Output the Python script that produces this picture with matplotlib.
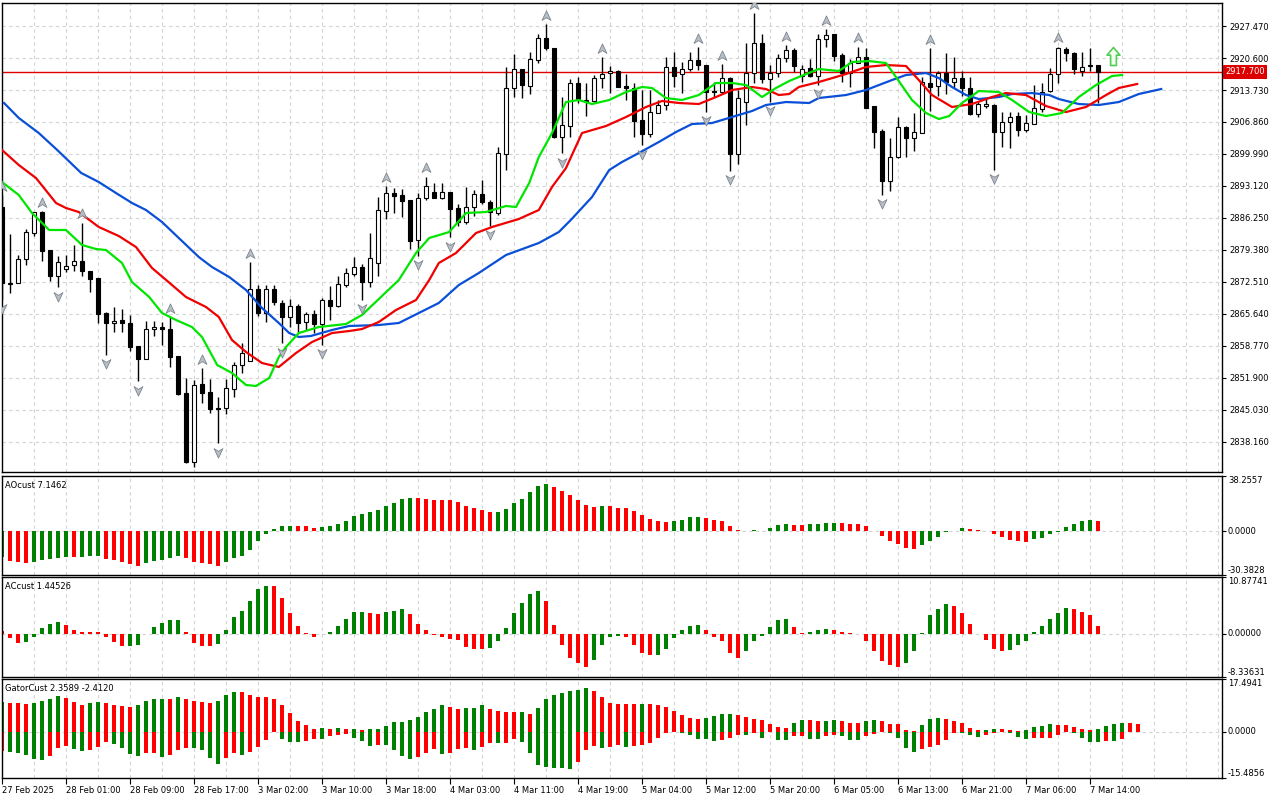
import numpy as np
import matplotlib
matplotlib.use("Agg")
import matplotlib.pyplot as plt
from matplotlib.path import Path
from matplotlib import transforms

plt.rcParams['font.family'] = ['DejaVu Sans']

# XAUUSD H1 candles, 27 Feb 2025 -> 7 Mar 2025
opens = [2888.61, 2872.01, 2872.35, 2877.51, 2883.09, 2887.47, 2879.37, 2873.86, 2875.23, 2876.09,
         2877.01, 2874.87, 2873.36, 2865.85, 2863.64, 2864.28, 2863.64, 2858.70, 2855.91, 2862.35,
         2862.78, 2862.35, 2856.55, 2848.61, 2833.86, 2850.54, 2848.82, 2845.45, 2845.39, 2849.47,
         2854.62, 2855.48, 2871.00, 2865.78, 2871.00, 2868.06, 2864.93, 2867.35, 2863.85, 2865.57,
         2863.42, 2868.64, 2867.42, 2871.86, 2874.22, 2875.79, 2872.57, 2876.65, 2887.81, 2891.55,
         2891.12, 2890.11, 2881.52, 2890.60, 2891.76, 2890.60, 2891.76, 2888.33, 2885.32, 2888.67,
         2891.33, 2889.62, 2887.38, 2899.99, 2914.22, 2918.17, 2914.65, 2920.17, 2924.83, 2922.68,
         2903.57, 2906.06, 2915.17, 2911.58, 2911.30, 2916.24, 2917.31, 2917.81, 2914.59, 2914.09,
         2907.29, 2904.28, 2908.85, 2910.44, 2918.60, 2917.10, 2918.17, 2920.10, 2919.09, 2913.58,
         2913.36, 2916.37, 2899.99, 2911.21, 2917.31, 2923.75, 2916.02, 2917.44, 2920.53, 2922.31,
         2916.73, 2918.39, 2916.73, 2924.61, 2925.75, 2921.24, 2917.44, 2919.59, 2920.75, 2910.29,
         2904.92, 2894.25, 2899.28, 2905.72, 2903.36, 2904.43, 2915.17, 2914.59, 2917.31, 2915.51,
         2916.24, 2914.09, 2908.57, 2910.29, 2910.51, 2904.65, 2906.92, 2908.14, 2905.14, 2906.43,
         2909.58, 2913.58, 2917.16, 2922.47, 2921.61, 2917.87, 2918.94, 2919.09]
highs = [2891.18, 2882.81, 2878.30, 2883.88, 2887.47, 2887.75, 2879.37, 2878.09, 2878.24, 2880.45,
         2885.24, 2874.87, 2873.36, 2866.00, 2867.14, 2866.71, 2865.36, 2858.70, 2864.20, 2864.13,
         2863.85, 2864.99, 2856.55, 2851.83, 2851.46, 2853.98, 2851.61, 2847.75, 2851.61, 2855.33,
         2859.34, 2876.73, 2871.92, 2871.92, 2871.92, 2868.64, 2868.85, 2867.72, 2866.13, 2866.49,
         2869.13, 2871.71, 2873.79, 2875.57, 2877.94, 2876.30, 2883.09, 2890.82, 2893.12, 2892.69,
         2892.41, 2890.11, 2891.55, 2895.11, 2893.82, 2893.82, 2891.89, 2889.25, 2892.84, 2892.26,
         2894.40, 2890.11, 2901.55, 2918.73, 2921.46, 2918.17, 2921.95, 2925.69, 2927.90, 2922.68,
         2912.16, 2916.02, 2916.45, 2915.17, 2916.95, 2920.75, 2918.88, 2918.02, 2917.16, 2915.17,
         2913.73, 2913.73, 2911.58, 2920.88, 2921.95, 2919.80, 2921.95, 2922.89, 2919.09, 2915.51,
         2919.31, 2916.58, 2913.73, 2923.88, 2930.19, 2925.75, 2919.09, 2921.46, 2923.39, 2922.68,
         2919.09, 2920.32, 2925.75, 2926.76, 2925.75, 2921.61, 2920.32, 2923.02, 2922.68, 2910.29,
         2905.29, 2903.36, 2907.87, 2906.00, 2908.72, 2916.45, 2922.68, 2917.81, 2921.61, 2920.75,
         2917.87, 2916.58, 2911.21, 2911.95, 2910.72, 2909.07, 2909.07, 2909.07, 2908.36, 2914.80,
         2915.17, 2918.39, 2923.02, 2922.89, 2921.95, 2921.95, 2922.68, 2919.09]
lows = [2868.64, 2870.21, 2872.29, 2876.15, 2882.38, 2877.08, 2872.78, 2871.37, 2874.65, 2874.93,
        2873.79, 2870.42, 2863.64, 2856.90, 2861.83, 2861.83, 2857.63, 2851.18, 2855.91, 2860.91,
        2859.04, 2854.32, 2848.24, 2833.58, 2832.72, 2846.46, 2844.44, 2837.87, 2844.10, 2847.75,
        2853.03, 2855.48, 2865.27, 2863.98, 2867.57, 2859.34, 2862.91, 2861.49, 2862.20, 2861.49,
        2858.98, 2864.35, 2867.20, 2871.37, 2873.79, 2868.64, 2871.37, 2873.79, 2886.10, 2887.38,
        2886.52, 2879.53, 2878.09, 2890.11, 2890.47, 2890.26, 2882.10, 2884.53, 2884.96, 2886.67,
        2889.25, 2884.53, 2886.89, 2896.55, 2912.29, 2912.07, 2912.80, 2919.46, 2922.31, 2903.36,
        2900.14, 2903.57, 2910.87, 2908.14, 2911.21, 2914.09, 2913.15, 2914.31, 2911.58, 2903.70,
        2901.85, 2903.57, 2908.72, 2909.43, 2914.44, 2913.15, 2917.87, 2918.02, 2909.07, 2912.16,
        2912.87, 2896.34, 2897.78, 2906.21, 2915.17, 2915.17, 2911.21, 2916.58, 2919.80, 2917.66,
        2915.51, 2916.45, 2914.80, 2923.02, 2920.02, 2915.51, 2914.44, 2919.52, 2909.80, 2901.21,
        2891.18, 2892.11, 2899.13, 2899.41, 2900.69, 2904.43, 2909.28, 2912.44, 2912.87, 2914.09,
        2912.44, 2908.36, 2907.99, 2909.80, 2896.55, 2901.55, 2901.21, 2903.85, 2904.77, 2906.43,
        2909.07, 2913.36, 2915.29, 2920.02, 2917.16, 2916.73, 2917.87, 2910.87]
closes = [2872.29, 2872.35, 2877.44, 2883.24, 2887.47, 2879.22, 2873.86, 2876.73, 2875.88, 2877.01,
          2874.93, 2873.21, 2865.70, 2863.64, 2864.07, 2863.64, 2858.61, 2856.04, 2862.35, 2862.78,
          2862.35, 2856.47, 2848.46, 2833.86, 2850.33, 2848.74, 2845.17, 2845.17, 2849.68, 2854.68,
          2857.26, 2870.94, 2865.78, 2871.00, 2868.21, 2864.93, 2867.35, 2863.77, 2865.57, 2863.42,
          2868.64, 2867.42, 2872.01, 2874.37, 2875.66, 2872.57, 2877.59, 2887.96, 2891.55, 2891.03,
          2889.96, 2881.37, 2890.47, 2893.12, 2890.60, 2891.76, 2888.18, 2885.45, 2888.67, 2891.33,
          2889.62, 2887.47, 2900.14, 2914.09, 2918.17, 2914.80, 2920.32, 2924.83, 2922.68, 2903.57,
          2906.21, 2915.17, 2911.79, 2911.30, 2916.24, 2917.16, 2917.81, 2914.44, 2914.09, 2907.14,
          2904.28, 2908.94, 2910.44, 2918.60, 2916.80, 2918.17, 2920.10, 2919.03, 2913.36, 2913.30,
          2916.24, 2899.92, 2911.95, 2917.31, 2923.75, 2916.02, 2917.44, 2920.53, 2922.31, 2918.88,
          2918.17, 2916.73, 2924.61, 2925.54, 2921.03, 2917.44, 2919.59, 2920.75, 2909.80, 2904.77,
          2894.25, 2899.41, 2905.72, 2903.36, 2904.65, 2915.51, 2914.44, 2917.31, 2915.51, 2916.24,
          2914.09, 2908.57, 2910.72, 2910.66, 2904.65, 2906.92, 2907.99, 2905.14, 2906.58, 2909.80,
          2913.36, 2917.16, 2922.68, 2921.61, 2918.17, 2918.73, 2919.09, 2917.70]

time_labels = ["27 Feb 2025", "28 Feb 01:00", "28 Feb 09:00", "28 Feb 17:00", "3 Mar 02:00",
               "3 Mar 10:00", "3 Mar 18:00", "4 Mar 03:00", "4 Mar 11:00", "4 Mar 19:00",
               "5 Mar 04:00", "5 Mar 12:00", "5 Mar 20:00", "6 Mar 05:00", "6 Mar 13:00",
               "6 Mar 21:00", "7 Mar 06:00", "7 Mar 14:00"]

# Alligator lines (already shifted forward: jaw 8, teeth 5, lips 3 bars)
jaw_x = [0.25, 2.1, 4.6, 6.9, 9.9, 12.1, 14.25, 16.25, 18, 20, 22.1, 24.6, 26.25, 28.4, 30.5,
         32.5, 34.6, 35.9, 37.1, 38.6, 41.25, 43.4, 47.1, 49.6, 52.1, 54.6, 57.1, 59.6, 63, 67.1,
         69.6, 71.1, 73.75, 75.9, 77.5, 79.6, 82.1, 84.25, 86.25, 88.75, 91.25, 93.75, 95.5, 98,
         100.9, 102.1, 105.5, 108, 111.25, 113, 115.5, 117.1, 118.75, 120.5, 122.1, 124.6, 126.25,
         128.75, 130.9, 132.1, 134.6, 137.1, 139.6, 142.1, 144.9]
jaw_y = [2910.94, 2907.72, 2904.49, 2900.85, 2895.91, 2893.97, 2891.61, 2889.47, 2887.96, 2885.39,
         2881.95, 2877.87, 2875.73, 2873.58, 2870.79, 2866.92, 2863.70, 2861.55, 2860.70, 2860.91,
         2862.20, 2863.06, 2863.27, 2863.70, 2865.85, 2868.00, 2871.86, 2874.44, 2878.30, 2880.88,
         2883.24, 2885.82, 2890.75, 2896.55, 2898.27, 2900.20, 2902.56, 2904.71, 2906.43, 2906.64,
         2907.93, 2909.22, 2910.51, 2911.15, 2910.94, 2912.01, 2912.65, 2913.73, 2915.87, 2916.95,
         2917.38, 2916.30, 2914.37, 2912.65, 2911.79, 2912.22, 2912.87, 2913.08, 2912.65, 2911.79,
         2910.72, 2910.51, 2911.15, 2912.87, 2913.94]
teeth_x = [0, 2.1, 4.25, 6.75, 8, 9.6, 12.1, 14.6, 16.75, 18.75, 21.25, 23, 25.5, 27.1, 28.75,
           30.5, 32.5, 34.6, 36.75, 38.75, 41.25, 43.4, 45, 47.1, 49.25, 51.75, 53.4, 54.6, 56.75,
           59.25, 61.25, 64.6, 67.1, 68.75, 70.5, 72.5, 75.5, 78, 80.5, 82.5, 84.6, 87.1, 89.25,
           91.25, 93.75, 95.5, 97.1, 98.4, 99.6, 102.1, 105.5, 108, 110.5, 113, 114.6, 116.25,
           118.75, 121.25, 123.75, 125.5, 128, 130.5, 133, 135.5, 138, 139.6, 141.9]
teeth_y = [2900.85, 2897.62, 2894.83, 2889.47, 2888.39, 2887.53, 2884.31, 2882.38, 2880.02, 2875.51,
           2871.86, 2869.28, 2867.14, 2864.99, 2860.05, 2857.48, 2855.11, 2854.26, 2857.26, 2859.62,
           2861.55, 2861.98, 2862.41, 2863.92, 2866.49, 2868.64, 2872.93, 2876.58, 2878.73, 2883.02,
           2884.31, 2886.03, 2887.96, 2892.90, 2896.98, 2904.49, 2906.00, 2907.93, 2910.08, 2911.37,
           2910.94, 2910.72, 2912.22, 2913.73, 2914.37, 2913.94, 2912.65, 2912.87, 2914.37, 2915.44,
           2917.16, 2918.67, 2919.09, 2918.88, 2915.87, 2912.65, 2910.08, 2910.72, 2912.22, 2913.08,
           2912.65, 2910.29, 2909.00, 2910.08, 2912.65, 2914.16, 2915.02]
lips_x = [0, 2.1, 3.75, 5.9, 8, 10, 11.75, 13, 15, 16.25, 18.4, 20, 21.75, 23.75, 25, 26.9, 28.75,
          30.5, 31.75, 33.4, 34.6, 35.5, 37.1, 39.6, 43, 45, 47.5, 49.6, 51.75, 53.4, 55.9, 58,
          60.5, 63, 64.25, 65.9, 67.1, 68.75, 70.5, 72.1, 73.75, 75.9, 78, 80, 81.25, 83, 85, 87.1,
          89.25, 91.25, 93, 95, 96.75, 98.4, 99.6, 102.1, 104.6, 106.25, 108.4, 110.5, 111.75,
          113.75, 115.5, 117.1, 118.4, 120, 122.1, 124.6, 126.25, 128.4, 130.5, 132.5, 134.6,
          136.75, 138.75, 140]
lips_y = [2893.97, 2891.18, 2887.32, 2883.67, 2883.67, 2880.45, 2879.59, 2879.37, 2876.58, 2872.50,
          2869.28, 2865.85, 2864.35, 2862.84, 2860.70, 2854.68, 2852.97, 2850.39, 2850.18, 2851.89,
          2856.40, 2858.55, 2861.55, 2862.84, 2863.49, 2865.42, 2869.50, 2872.93, 2878.73, 2881.95,
          2883.24, 2887.32, 2887.53, 2888.82, 2888.61, 2893.76, 2899.34, 2904.49, 2911.15, 2911.58,
          2910.72, 2911.58, 2913.30, 2914.37, 2914.16, 2912.01, 2911.58, 2912.65, 2915.23, 2915.23,
          2914.80, 2912.22, 2914.16, 2915.66, 2916.52, 2918.24, 2917.81, 2919.74, 2919.95, 2919.52,
          2916.52, 2911.58, 2908.79, 2907.50, 2908.14, 2910.94, 2913.51, 2913.30, 2911.58, 2909.00,
          2908.14, 2908.79, 2912.22, 2914.80, 2916.73, 2916.95]

# bars that carry a fractal
up_fractals = [0, 5, 10, 21, 25, 31, 48, 53, 68, 75, 87, 90, 94, 98, 103, 107, 116, 132]
down_fractals = [0, 7, 13, 17, 27, 35, 40, 45, 52, 56, 61, 70, 80, 88, 91, 96, 102, 110, 124]

ao = [-18.0, -20.8, -21.6, -21.9, -21.7, -20.3, -19.2, -18.5, -17.6, -18.2,
      -17.8, -17.5, -17.1, -19.2, -19.9, -21.7, -22.6, -23.8, -22.2, -21.0,
      -19.9, -18.5, -17.1, -18.5, -21.3, -21.9, -23.1, -23.8, -21.7, -18.9,
      -16.9, -12.9, -6.5, -2.1, 1.6, 3.7, 3.8, 3.6, 3.5, 2.3,
      3.2, 3.7, 5.1, 7.2, 10.2, 11.6, 13.4, 15.0, 17.6, 19.6,
      22.4, 23.1, 23.0, 22.4, 21.7, 21.6, 21.3, 20.3, 17.6, 16.4,
      15.0, 13.4, 13.5, 15.7, 19.6, 22.4, 27.5, 31.2, 32.8, 30.7,
      28.2, 25.4, 21.7, 18.2, 16.9, 17.6, 17.5, 16.2, 16.1, 14.1,
      11.3, 8.5, 7.2, 6.5, 7.2, 7.9, 9.5, 9.9, 9.2, 7.9,
      7.2, 3.7, 0.9, -0.2, 0.5, 0.4, 2.3, 4.4, 5.1, 4.4,
      4.3, 5.1, 5.15, 5.8, 5.85, 5.7, 5.1, 5.0, 3.7, -0.1,
      -3.2, -6.5, -9.2, -12.0, -12.1, -9.9, -6.5, -3.7, -0.9, 0.4,
      2.3, 1.6, 0.9, -0.1, -2.3, -4.2, -5.8, -6.5, -7.2, -5.1,
      -4.4, -2.3, -0.4, 3.0, 5.1, 6.8, 7.5, 7.1462]
ac = [0.5, -0.9, -1.8, -1.7, -0.6, 1.0, 1.9, 2.3, 1.7, 0.6,
      0.4, 0.38, 0.37, -0.6, -1.7, -2.4, -2.35, -2.2, -0.1, 1.3,
      2.1, 2.6, 2.7, 0.4, -1.8, -2.4, -2.45, -2.0, 0.6, 3.1,
      4.3, 6.3, 8.6, 9.2, 9.1, 6.9, 4.0, 1.5, 0.2, -0.6,
      -0.05, 0.4, 1.5, 2.9, 4.1, 4.2, 3.9, 3.7, 4.1, 4.3,
      4.8, 3.7, 1.9, 0.6, -0.3, -0.6, -1.0, -1.3, -2.6, -2.9,
      -3.0, -2.8, -1.5, 1.0, 4.0, 5.8, 7.7, 8.1, 6.3, 1.7,
      -2.1, -4.6, -5.7, -6.5, -5.1, -2.2, -0.6, -0.5, -0.65, -2.1,
      -3.7, -4.2, -4.15, -3.0, -0.9, 0.6, 1.5, 1.7, 0.6, -0.6,
      -1.5, -3.8, -4.6, -3.4, -1.4, -0.5, 1.3, 2.6, 2.8, 1.3,
      0.2, 0.4, 0.6, 0.8, 0.6, 0.4, 0.05, -0.05, -1.5, -3.4,
      -5.3, -6.1, -6.5, -5.7, -3.4, 0.1, 3.5, 4.8, 5.6, 5.3,
      4.0, 1.9, -0.05, -1.3, -3.0, -3.4, -3.2, -2.2, -1.4, 0.4,
      1.5, 2.9, 4.0, 5.0, 4.8, 4.2, 3.5, 1.44526]
gator_up = [9.9, 9.6, 9.35, 9.1, 9.35, 10.0, 10.7, 11.7, 11.3, 9.9,
            8.8, 9.35, 9.7, 9.6, 8.9, 8.5, 8.0, 8.7, 10.2, 10.9,
            10.95, 10.85, 11.55, 10.7, 10.0, 9.7, 9.6, 10.0, 12.0, 13.2,
            13.0, 12.0, 11.55, 11.5, 10.7, 8.7, 6.05, 3.6, 2.1, 1.0,
            1.05, 0.8, 1.1, 0.7, 1.0, 0.6, 0.8, 0.9, 2.0, 3.1,
            3.15, 3.7, 4.8, 6.4, 7.6, 8.7, 8.0, 7.4, 7.7, 7.75,
            8.7, 7.6, 6.9, 6.4, 6.35, 6.4, 5.8, 7.9, 10.9, 12.0,
            12.8, 13.5, 13.9, 14.5, 13.5, 11.55, 9.6, 9.25, 9.2, 9.15,
            9.2, 9.1, 8.9, 8.25, 6.9, 5.6, 4.6, 4.3, 4.6, 5.3,
            5.7, 5.9, 5.6, 5.0, 4.3, 3.95, 2.6, 1.65, 1.3, 3.0,
            3.95, 3.9, 3.6, 3.65, 4.0, 3.6, 3.0, 2.95, 3.5, 3.95,
            3.6, 2.6, 2.55, 0.35, 0.1, 2.3, 4.3, 4.6, 4.3, 3.6,
            3.0, 1.3, 0.35, 0.65, 1.0, 0.95, 0.35, 0.3, 0.65, 1.65,
            2.0, 2.6, 2.3, 2.25, 1.65, 1.0, 0.35, 1.0, 2.0, 2.6,
            2.95, 2.9, 2.3589]
gator_dn = [-6.6, -6.9, -7.15, -7.7, -9.0, -9.35, -8.0, -5.5, -4.7, -5.8,
            -6.4, -6.05, -5.2, -3.6, -4.1, -5.5, -7.5, -8.0, -7.15, -7.1,
            -8.5, -7.8, -6.05, -5.6, -5.65, -6.05, -8.8, -10.7, -8.75, -7.15,
            -7.8, -6.9, -5.2, -2.75, -0.3, -2.4, -3.4, -3.6, -3.1, -2.5,
            -2.6, -1.5, -1.2, -0.8, -2.2, -3.1, -4.8, -4.5, -4.6, -6.1,
            -8.1, -9.1, -8.5, -7.0, -5.9, -7.5, -7.0, -5.9, -5.6, -6.3,
            -5.2, -3.8, -3.9, -3.7, -2.6, -3.6, -7.0, -11.3, -11.8, -12.0,
            -12.2, -12.5, -10.1, -6.2, -4.95, -5.6, -5.3, -4.6, -5.3, -4.95,
            -4.6, -3.95, -2.0, -0.55, -0.2, -0.45, -1.2, -2.5, -2.65, -3.0,
            -2.9, -2.0, -1.2, -1.25, -0.45, -2.3, -0.1, -2.85, -2.9, -1.55,
            -1.5, -2.5, -2.55, -1.55, -1.3, -1.55, -2.85, -2.9, -1.55, -0.9,
            -0.3, -0.4, -2.3, -5.6, -6.8, -5.9, -5.3, -4.6, -2.85, -0.4,
            -0.45, -1.1, -1.75, -1.2, -0.45, -0.1, -0.45, -1.9, -2.5, -2.3,
            -2.25, -2.0, -1.2, -0.1, -0.45, -2.2, -3.5, -3.55, -3.2, -3.3,
            -2.412]

price_ticks = [2927.47, 2920.60, 2913.73, 2906.86, 2899.99, 2893.12, 2886.25,
               2879.38, 2872.51, 2865.64, 2858.77, 2851.90, 2845.03, 2838.16]
last_price = 2917.70

GRID = '#d3d3d3'
HGREEN = '#008000'
HRED = '#ff0000'
W, H = 1280, 800

fig = plt.figure(figsize=(12.8, 8), dpi=100)
fig.patch.set_facecolor('white')


def panel(top, bottom):
    return fig.add_axes([2 / W, 1 - bottom / H, 1220 / W, (bottom - top) / H])


def style(a):
    a.set_xlim(0, 152.5)
    a.yaxis.tick_right()
    a.tick_params(axis='y', direction='out', length=3, width=0.8, pad=2, labelsize=6)
    a.tick_params(axis='x', bottom=False, labelbottom=False)
    for s in a.spines.values():
        s.set_linewidth(1.0)
        s.set_color('black')
    for g in range(0, 153, 4):
        a.axvline(g, color=GRID, lw=0.8, ls=(0, (3, 3)), zorder=0)


def trend_colors(vals, first, by_size=False):
    v = np.abs(vals) if by_size else np.asarray(vals)
    return [first] + [HGREEN if v[k] > v[k - 1] else HRED for k in range(1, len(v))]


ax = panel(3, 472)
ax_ao = panel(476, 575)
ax_ac = panel(577, 677)
ax_gt = panel(679, 778)
for a in (ax, ax_ao, ax_ac, ax_gt):
    style(a)

# ---- main price panel ----
o, h, l, c = (np.array(v) for v in (opens, highs, lows, closes))
idx = np.arange(len(o))
ax.set_ylim(2831.71, 2932.41)
ax.set_yticks(price_ticks)
ax.set_yticklabels(['%.3f' % p for p in price_ticks])
for p in price_ticks:
    ax.axhline(p, color=GRID, lw=0.8, ls=(0, (3, 3)), zorder=0)

ax.axhline(last_price, color='#e00000', lw=1.0, zorder=1.5)
ax.vlines(idx, l, h, color='black', lw=1.0, zorder=2)
bull = c >= o
ax.bar(idx, np.maximum(np.abs(c - o), 0.12), bottom=np.minimum(o, c), width=0.55,
       color=np.where(bull, 'white', 'black'), edgecolor='black', linewidth=0.8, zorder=3)

ax.plot(jaw_x, jaw_y, color='#0a4fd8', lw=1.6, zorder=4)
ax.plot(teeth_x, teeth_y, color='#f00000', lw=1.6, zorder=4)
ax.plot(lips_x, lips_y, color='#00e600', lw=1.6, zorder=4)

arrow_up = Path([(0, 1), (0.8, -0.7), (0, -0.2), (-0.8, -0.7), (0, 1)],
                [Path.MOVETO, Path.LINETO, Path.LINETO, Path.LINETO, Path.CLOSEPOLY])
arrow_dn = Path([(0, -1), (0.8, 0.7), (0, 0.2), (-0.8, 0.7), (0, -1)],
                [Path.MOVETO, Path.LINETO, Path.LINETO, Path.LINETO, Path.CLOSEPOLY])
above = transforms.offset_copy(ax.transData, fig=fig, x=0, y=6, units='points')
below = transforms.offset_copy(ax.transData, fig=fig, x=0, y=-6, units='points')
ax.plot(up_fractals, h[up_fractals], ls='none', marker=arrow_up, ms=8,
        mfc='#b9bfc7', mec='#7c848e', mew=0.6, transform=above, zorder=5)
ax.plot(down_fractals, l[down_fractals], ls='none', marker=arrow_dn, ms=8,
        mfc='#b9bfc7', mec='#7c848e', mew=0.6, transform=below, zorder=5)

# buy signal arrow after the last bar
block_up = Path([(0, 1), (0.72, 0.15), (0.32, 0.15), (0.32, -1), (-0.32, -1),
                 (-0.32, 0.15), (-0.72, 0.15), (0, 1)],
                [Path.MOVETO] + [Path.LINETO] * 6 + [Path.CLOSEPOLY])
ax.plot([138.9], [2921.0], ls='none', marker=block_up, ms=13, mfc='#f2fff2',
        mec='#55cc55', mew=1.2, zorder=5)

tr = transforms.blended_transform_factory(ax.transAxes, ax.transData)
ax.text(1.0 + 3 / 1220, last_price, '%.3f' % last_price, transform=tr, ha='left', va='center',
        fontsize=6, color='white', clip_on=False,
        bbox=dict(boxstyle='square,pad=0.3', fc='#dd0000', ec='none'))

# ---- indicator panels ----
def indicator(a, vals_list, lims, fmt, title):
    lo, hi = lims
    a.set_ylim(lo, hi)
    a.axhline(0, color=GRID, lw=0.8, ls=(0, (3, 3)), zorder=0)
    a.set_yticks([lo, 0, hi])
    a.set_yticklabels([])
    ytr = transforms.blended_transform_factory(a.transAxes, a.transData)
    xo = 1.0 + 6 / 1220
    a.text(xo, hi, fmt % hi, transform=ytr, ha='left', va='top', fontsize=6)
    a.text(xo, 0, fmt % 0, transform=ytr, ha='left', va='center', fontsize=6)
    a.text(xo, lo, fmt % lo, transform=ytr, ha='left', va='bottom', fontsize=6)
    a.text(3 / 1220, 0.95, title, transform=a.transAxes, ha='left', va='top', fontsize=6)
    for vals, cols in vals_list:
        a.bar(np.arange(len(vals)), vals, width=0.45, color=cols, linewidth=0, zorder=2)


indicator(ax_ao, [(ao, trend_colors(ao, HGREEN))], (-30.3828, 38.2557), '%.4f',
          'AOcust %.4f' % ao[-1])
indicator(ax_ac, [(ac, trend_colors(ac, HRED))], (-8.33631, 10.87741), '%.5f',
          'ACcust %.5f' % ac[-1])
indicator(ax_gt, [(gator_up, trend_colors(gator_up, HGREEN)),
                  (gator_dn, trend_colors(gator_dn, HRED, by_size=True))],
          (-15.4856, 17.4941), '%.4f',
          'GatorCust %.4f %.4f' % (gator_up[-1], gator_dn[-1]))

ax_gt.set_xticks(np.arange(0, 8 * len(time_labels), 8))
ax_gt.set_xticklabels(time_labels)
ax_gt.tick_params(axis='x', bottom=True, labelbottom=True, direction='out', length=4,
                  width=0.8, pad=2, labelsize=6)
for lab in ax_gt.get_xticklabels():
    lab.set_ha('left')

fig.savefig('out.png', dpi=100, facecolor='white')
